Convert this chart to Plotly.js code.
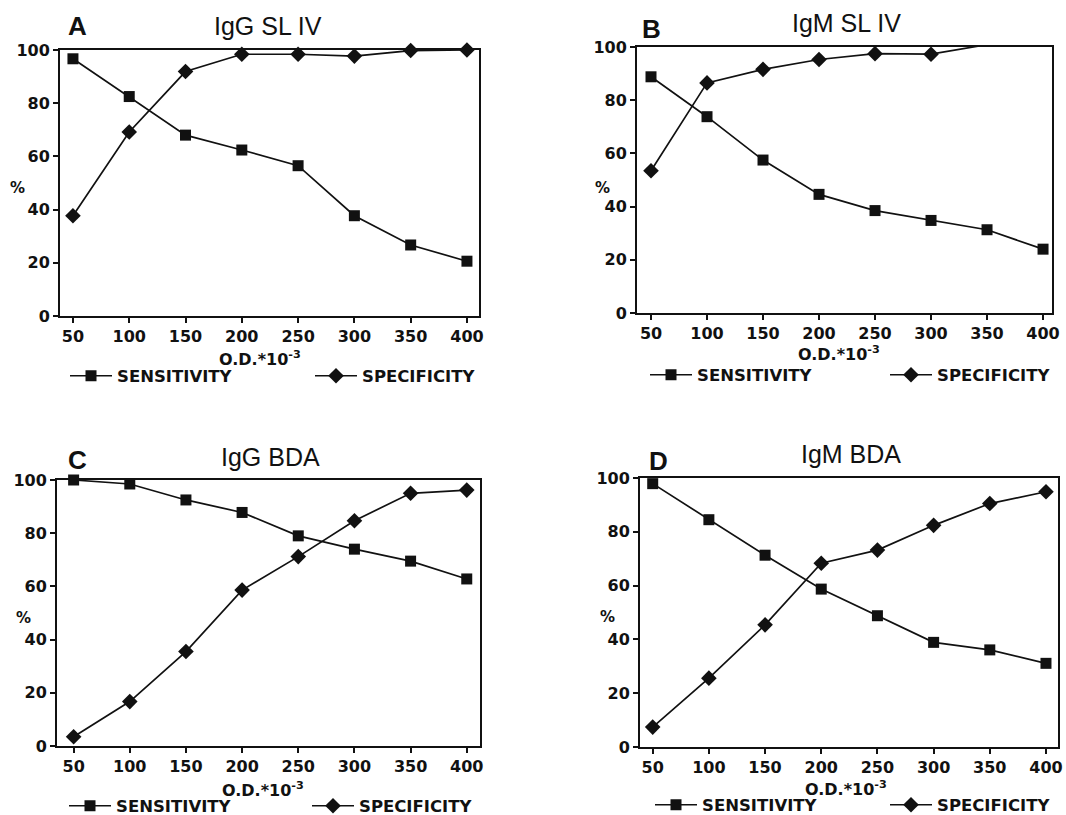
<!DOCTYPE html>
<html>
<head>
<meta charset="utf-8">
<script src="https://cdn.plot.ly/plotly-3.0.1.min.js"></script>
<style>
  html, body { margin: 0; padding: 0; background: #ffffff; overflow: hidden; }
  #chart { width: 1066px; height: 815px; }
</style>
</head>
<body>
<div id="chart"></div>
<script>
// ---------------- data ----------------
const odValues = [50, 100, 150, 200, 250, 300, 350, 400];
const xTickLabels = ['50', '100', '150', '200', '250', '300', '350', '400'];
const yTickValues = [0, 20, 40, 60, 80, 100];
const yTickLabels = ['0', '20', '40', '60', '80', '100'];
const panelLetters = ['A', 'B', 'C', 'D'];
const panelTitles = ['IgG SL IV', 'IgM SL IV', 'IgG BDA', 'IgM BDA'];
const seriesNames = ['SENSITIVITY', 'SPECIFICITY'];
const xAxisLabel = 'O.D.*10<sup>-3</sup>';
const yAxisLabel = '%';

const sensIgGSLIV = [96.7, 82.5, 68.0, 62.4, 56.5, 37.7, 26.7, 20.6];
const specIgGSLIV = [37.7, 69.2, 91.9, 98.4, 98.4, 97.7, 99.8, 100];
const sensIgMSLIV = [88.8, 73.8, 57.5, 44.6, 38.5, 34.8, 31.3, 24.0];
const specIgMSLIV = [53.5, 86.5, 91.6, 95.3, 97.5, 97.3, 100.9, 100.3];
const sensIgGBDA  = [100, 98.5, 92.5, 87.8, 79.0, 74.0, 69.5, 62.8];
const specIgGBDA  = [3.5, 16.7, 35.5, 58.6, 71.2, 84.7, 95.0, 96.2];
const sensIgMBDA  = [97.9, 84.5, 71.3, 58.7, 48.8, 38.9, 36.1, 31.1];
const specIgMBDA  = [7.4, 25.6, 45.4, 68.3, 73.2, 82.4, 90.5, 94.9];

const sensitivitySeries = [sensIgGSLIV, sensIgMSLIV, sensIgGBDA, sensIgMBDA];
const specificitySeries = [specIgGSLIV, specIgMSLIV, specIgGBDA, specIgMBDA];

// ---------------- layout helpers ----------------
const W = 1066, H = 815;
const px = x => x / W;
const py = y => 1 - y / H;

const boxes = [
  { l: 60,  r: 479,  t: 50,  b: 316, xr: [38.5, 410.7],
    letter: [77, 26], title: [268, 26], xlab: [260, 358], ylab: [17, 188],
    leg1: [73, 376], leg2: [318, 376] },
  { l: 637, r: 1052, t: 47,  b: 313, xr: [37.5, 408],
    letter: [651, 29], title: [846, 23], xlab: [839, 354], ylab: [602, 188],
    leg1: [653, 375], leg2: [893, 375] },
  { l: 57,  r: 480,  t: 480, b: 746, xr: [35.2, 411.8],
    letter: [77, 460], title: [270, 457], xlab: [263, 789], ylab: [23, 618],
    leg1: [72, 806], leg2: [315, 806] },
  { l: 640, r: 1058, t: 478, b: 747, xr: [38.7, 410.7],
    letter: [658, 461], title: [851, 454], xlab: [846, 788], ylab: [607, 617],
    leg1: [658, 805], leg2: [893, 805] }
];

const tickFont = { family: 'DejaVu Sans', size: 16, color: '#111', weight: 'bold' };
const legFont = { family: 'DejaVu Sans', size: 16.5, color: '#111', weight: 'bold' };
const LEG_OFF = 8;

const data = [];
const layout = {
  width: W, height: H,
  margin: { l: 0, r: 0, t: 0, b: 0, autoexpand: false },
  paper_bgcolor: '#ffffff',
  plot_bgcolor: '#ffffff',
  showlegend: true,
  annotations: []
};

function legendName(k) { return k === 1 ? 'legend' : 'legend' + k; }

boxes.forEach((bx, i) => {
  const n = i + 1;
  const xa = n === 1 ? 'x' : 'x' + n;
  const ya = n === 1 ? 'y' : 'y' + n;
  const lg1 = legendName(2 * i + 1);
  const lg2 = legendName(2 * i + 2);

  data.push({
    type: 'scatter', mode: 'lines+markers',
    x: odValues, y: sensitivitySeries[i],
    xaxis: xa, yaxis: ya, name: seriesNames[0], legend: lg1,
    line: { color: '#111', width: 1.7 },
    marker: { symbol: 'square', size: 11, color: '#111' },
    cliponaxis: false
  });
  data.push({
    type: 'scatter', mode: 'lines+markers',
    x: odValues, y: specificitySeries[i],
    xaxis: xa, yaxis: ya, name: seriesNames[1], legend: lg2,
    line: { color: '#111', width: 1.7 },
    marker: { symbol: 'diamond', size: 12, color: '#111' },
    cliponaxis: false
  });

  const xKey = n === 1 ? 'xaxis' : 'xaxis' + n;
  const yKey = n === 1 ? 'yaxis' : 'yaxis' + n;
  layout[xKey] = {
    domain: [px(bx.l), px(bx.r)],
    anchor: ya,
    range: bx.xr,
    tickvals: odValues, ticktext: xTickLabels,
    ticks: 'outside', ticklen: 5, tickwidth: 2, tickcolor: '#111',
    showline: true, linewidth: 2, linecolor: '#111', mirror: true,
    showgrid: false, zeroline: false,
    tickfont: tickFont, fixedrange: true
  };
  layout[yKey] = {
    domain: [py(bx.b), py(bx.t)],
    anchor: xa,
    range: [0, 100],
    tickvals: yTickValues, ticktext: yTickLabels,
    ticks: 'outside', ticklen: 5, tickwidth: 2, tickcolor: '#111',
    showline: true, linewidth: 2, linecolor: '#111', mirror: true,
    showgrid: false, zeroline: false,
    tickfont: tickFont, fixedrange: true
  };
  [[lg1, bx.leg1], [lg2, bx.leg2]].forEach(([name, pos]) => {
    layout[name] = {
      orientation: 'h',
      x: px(pos[0] - LEG_OFF), xanchor: 'left',
      y: py(pos[1]), yanchor: 'middle',
      font: legFont,
      bgcolor: 'rgba(0,0,0,0)',
      borderwidth: 0,
      itemwidth: 42,
      itemclick: false, itemdoubleclick: false
    };
  });

  layout.annotations.push({
    xref: 'paper', yref: 'paper', x: px(bx.letter[0]), y: py(bx.letter[1]),
    xanchor: 'center', yanchor: 'middle', showarrow: false,
    text: '<b>' + panelLetters[i] + '</b>',
    font: { family: 'Liberation Sans', size: 26, color: '#111' }
  });
  layout.annotations.push({
    xref: 'paper', yref: 'paper', x: px(bx.title[0]), y: py(bx.title[1]),
    xanchor: 'center', yanchor: 'middle', showarrow: false,
    text: panelTitles[i],
    font: { family: 'Liberation Sans', size: 25, color: '#111' }
  });
  layout.annotations.push({
    xref: 'paper', yref: 'paper', x: px(bx.xlab[0]), y: py(bx.xlab[1]),
    xanchor: 'center', yanchor: 'middle', showarrow: false,
    text: xAxisLabel,
    font: { family: 'DejaVu Sans', size: 16, color: '#111', weight: 'bold' }
  });
  layout.annotations.push({
    xref: 'paper', yref: 'paper', x: px(bx.ylab[0]), y: py(bx.ylab[1]),
    xanchor: 'center', yanchor: 'middle', showarrow: false,
    text: yAxisLabel,
    font: { family: 'DejaVu Sans', size: 15, color: '#111', weight: 'bold' }
  });
});

Plotly.newPlot('chart', data, layout, { displayModeBar: false, staticPlot: true });
</script>
</body>
</html>
